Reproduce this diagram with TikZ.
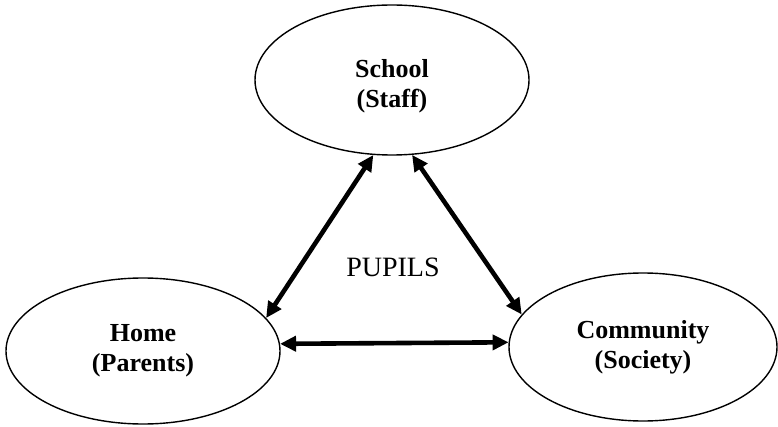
\documentclass[tikz,border=0pt]{standalone}
\usepackage{fontspec}
\setmainfont{Liberation Serif}
\usetikzlibrary{shapes.geometric,arrows.meta}
\begin{document}
\begin{tikzpicture}[x=1pt,y=1pt,
  place/.style={ellipse,draw,line width=1.4pt,inner sep=0pt,align=center,
    font=\fontsize{26}{30}\selectfont\bfseries},
  label text/.style={align=center,inner sep=0pt,font=\fontsize{26}{30}\selectfont\bfseries},
  link/.style={line width=4.6pt,{Triangle[length=16pt,width=15pt]}-{Triangle[length=16pt,width=15pt]}}]
\useasboundingbox (0,0) rectangle (778,426);
\node[place,minimum width=274pt,minimum height=150pt] (school) at (392,346) {};
\node[label text] (schooltext) at ([yshift=-6pt]school.center) {School\\(Staff)};
\node[place,minimum width=274pt,minimum height=146pt] (home) at (143,75) {Home\\(Parents)};
\node[place,minimum width=268pt,minimum height=148pt] (comm) at (643,79) {Community\\(Society)};
\node[font=\fontsize{28}{32}\selectfont] (pupils) at (393,159) {PUPILS};
\draw[link] (school.256) -- (home.15);
\draw[link] (school.285) -- (comm.165);
\draw[link] (home.3.6) -- (comm.178);
\end{tikzpicture}
\end{document}
